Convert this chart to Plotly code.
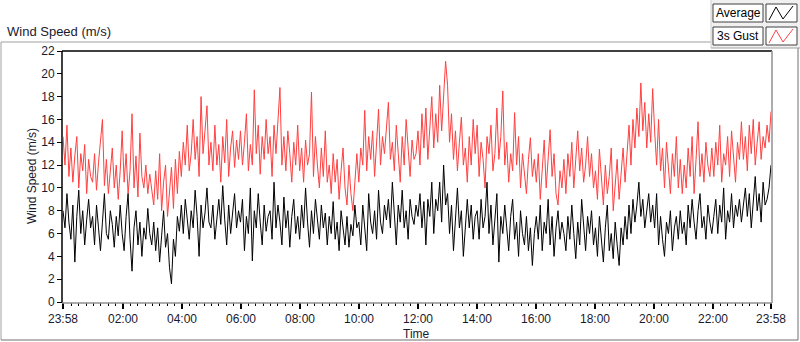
import pandas as pd
import plotly.graph_objects as go

# ---- data (4-minute samples) ----
gust_speed = [
    14.5, 12.0, 15.5, 11.0, 13.5, 10.5, 12.8, 14.5, 10.0, 13.0, 11.5, 13.8, 9.5, 12.5, 11.0,
    10.5, 13.0, 9.8, 12.2, 14.0, 16.0, 10.2, 12.5, 9.5, 11.8, 13.5, 10.0, 12.0, 9.0, 11.5,
    15.0, 10.5, 13.0, 9.5, 11.5, 16.5, 10.0, 12.8, 9.2, 14.8, 11.0, 10.0, 12.0, 9.5, 11.2,
    10.0, 8.5, 11.5, 9.0, 13.0, 8.0, 10.5, 12.0, 7.5, 10.0, 11.8, 8.2, 12.5, 9.5, 13.2,
    11.0, 14.0, 12.0, 15.5, 11.5, 13.0, 16.0, 12.5, 14.5, 11.0, 18.0, 13.0, 15.0, 17.2, 12.0,
    14.0, 11.5, 15.5, 12.0, 13.8, 10.5, 14.5, 12.2, 16.0, 11.0, 13.5, 15.0, 11.8, 14.2, 12.5,
    15.0, 12.0, 14.0, 16.5, 11.5, 13.8, 12.0, 18.6, 13.0, 15.5, 11.2, 14.5, 12.5, 16.0, 13.0,
    14.5, 11.0, 15.5, 13.0, 16.0, 18.8, 12.0, 14.5, 11.5, 15.0, 13.0, 10.5, 14.0, 12.0, 15.5,
    11.5, 13.5, 10.5, 14.2, 12.0, 13.0, 18.4, 11.0, 14.5, 12.0, 10.0, 13.5, 11.0, 15.0, 10.5,
    12.0, 9.5, 13.0, 10.5, 12.5, 9.0, 11.5, 13.5, 10.0, 8.5, 12.0, 9.5, 8.0, 11.0, 13.0,
    10.5, 13.5, 12.0, 16.8, 11.5, 14.5, 12.5, 15.0, 11.0, 13.8, 16.9, 12.0, 14.5, 13.0, 15.5,
    17.5, 12.5, 14.0, 11.5, 15.5, 13.0, 10.5, 14.5, 12.0, 16.0, 13.5, 11.0, 14.2, 12.5, 13.0,
    15.0, 12.0, 16.5, 13.5, 17.0, 12.5, 15.5, 18.0, 13.5, 16.5, 14.0, 19.0, 15.0, 18.5, 21.1,
    19.0, 14.0, 16.5, 12.5, 15.0, 11.5, 14.0, 16.2, 12.0, 13.5, 10.5, 14.5, 12.0, 16.0, 13.0,
    15.5, 11.0, 14.0, 12.5, 10.0, 14.5, 13.0, 15.5, 11.5, 13.0, 17.0, 12.5, 14.5, 18.5, 12.0,
    14.0, 10.5, 13.0, 11.5, 16.6, 12.0, 14.5, 10.0, 13.0, 11.5, 9.5, 12.5, 14.4, 11.0, 12.5,
    10.5, 13.0, 9.0, 12.0, 14.2, 10.0, 12.5, 15.1, 11.0, 13.0, 9.5, 8.5, 11.5, 10.0, 12.5,
    9.5, 13.0, 11.0, 14.0, 10.0, 12.5, 15.0, 11.5, 13.5, 10.5, 12.0, 14.5, 11.0, 13.0, 10.0,
    11.5, 9.0, 13.4, 10.5, 8.5, 12.0, 9.5, 11.0, 13.5, 8.0, 10.5, 12.5, 9.0, 11.5, 13.5,
    10.5, 13.0, 15.5, 12.0, 16.0, 13.5, 17.0, 14.5, 19.2, 15.0, 17.5, 13.5, 16.5, 14.0, 18.7,
    15.0, 12.0, 16.0, 11.5, 13.5, 10.0, 14.0, 12.0, 9.5, 13.0, 11.0, 14.5, 10.0, 12.5, 9.5,
    12.0, 10.0, 13.5, 11.0, 14.5, 9.5, 12.5, 15.8, 11.0, 13.0, 10.5, 14.0, 12.0, 11.0, 13.5,
    11.0, 14.0, 12.0, 15.5, 10.5, 13.0, 12.0, 14.5, 11.0, 15.0, 13.0, 10.5, 14.0, 12.5, 15.8,
    12.5, 14.5, 11.5, 15.5, 13.0, 16.0, 12.0, 14.0, 15.8, 12.5, 14.5, 13.5, 15.5, 14.0, 16.7,
]

avg_speed = [
    8.0, 6.5, 9.5, 7.0, 5.5, 8.5, 3.5, 7.5, 9.8, 6.0, 8.0, 5.0, 7.2, 9.0, 6.5,
    7.5, 5.0, 8.5, 6.5, 4.5, 7.0, 9.5, 6.0, 5.5, 8.0, 6.8, 4.8, 7.5, 5.8, 8.5,
    6.0, 4.5, 7.5, 9.5, 5.5, 2.7, 6.5, 8.0, 5.0, 7.0, 4.0, 6.5, 5.5, 8.2, 6.0,
    5.0, 7.0, 4.5, 6.5, 3.5, 5.8, 8.0, 4.8, 6.0, 3.0, 1.6, 5.5, 4.0, 7.5, 6.2,
    8.5, 6.0, 9.0, 7.0, 5.5, 8.0, 6.5, 9.8, 7.5, 4.0, 8.5, 6.5, 7.8, 10.0, 7.0,
    6.5, 8.5, 5.5, 7.5, 9.0, 6.8, 10.2, 7.2, 5.0, 8.5, 6.0, 7.8, 9.5, 6.5, 8.0,
    7.0, 9.0, 4.5, 7.5, 6.0, 10.0, 3.6, 8.0, 6.5, 9.5, 7.0, 5.0, 8.5, 6.2, 7.5,
    8.0, 5.5, 10.5, 6.5, 8.5, 7.0, 5.0, 9.2, 6.5, 8.0, 4.8, 7.5, 9.0, 6.0, 7.5,
    5.5, 8.5, 6.5, 10.0, 7.0, 4.8, 8.0, 6.0, 9.0, 7.2, 5.5, 8.5, 6.5, 7.8, 5.0,
    7.5, 6.0, 8.8, 5.5, 7.0, 4.5, 8.0, 6.5, 5.0, 7.5, 4.8, 6.8, 5.8, 8.5, 6.5,
    7.0, 5.0, 8.5, 6.5, 4.5, 9.5, 7.0, 6.0, 8.0, 5.5, 9.8, 7.0, 6.0, 8.5, 7.2,
    9.0, 6.5, 10.5, 7.5, 5.0, 8.5, 7.0, 9.8, 6.5, 8.0, 5.5, 9.0, 7.5, 6.8, 8.5,
    7.5, 9.5, 6.5, 8.8, 5.0, 9.0, 7.5, 10.5, 6.0, 9.0, 8.0, 10.5, 7.0, 12.0, 8.5,
    9.5, 6.0, 8.5, 4.5, 7.5, 10.0, 6.5, 8.0, 4.0, 7.0, 9.0, 6.5, 8.5, 5.5, 7.5,
    8.0, 5.5, 9.0, 6.5, 7.5, 10.5, 6.0, 8.5, 5.0, 7.0, 9.5, 3.5, 7.5, 6.0, 8.5,
    6.5, 4.5, 7.5, 9.0, 5.5, 7.0, 4.0, 8.0, 6.0, 5.0, 7.5, 4.5, 6.5, 3.2, 6.0,
    7.5, 5.5, 8.5, 4.5, 7.0, 6.0, 9.0, 5.0, 7.5, 4.0, 6.5, 8.0, 5.5, 7.0, 6.0,
    4.5, 7.5, 5.5, 8.5, 6.0, 3.8, 7.0, 5.0, 9.0, 6.5, 4.5, 7.5, 6.0, 8.0, 5.0,
    6.5, 4.0, 7.5, 5.5, 3.5, 6.5, 8.5, 4.5, 6.0, 3.8, 7.0, 5.0, 3.2, 6.5, 5.0,
    7.5, 5.5, 8.5, 6.0, 9.0, 7.0, 8.5, 10.5, 7.5, 9.0, 6.5, 8.0, 9.5, 7.0, 8.5,
    6.5, 9.5, 5.0, 7.5, 5.5, 4.0, 7.0, 6.0, 8.0, 4.5, 6.5, 7.5, 5.5, 8.0, 6.0,
    7.0, 5.0, 8.5, 6.5, 9.0, 7.0, 5.5, 8.0, 9.5, 6.5, 7.5, 5.5, 8.5, 7.0, 6.0,
    7.5, 9.0, 6.0, 8.5, 7.0, 10.0, 5.5, 8.0, 7.0, 9.5, 6.5, 8.5, 7.5, 9.0, 7.0,
    8.5, 10.0, 7.5, 9.5, 6.5, 8.5, 11.0, 8.0, 9.5, 7.0, 10.5, 8.5, 9.0, 10.0, 12.0,
]

start_time = "2000-01-01 23:58"
end_time = "2000-01-02 23:58"
major_tick_times = [start_time] + [f"2000-01-02 {h:02d}:00" for h in range(2, 24, 2)] + [end_time]
major_tick_labels = ["23:58"] + [f"{h:02d}:00" for h in range(2, 24, 2)] + ["23:58"]
y_ticks = list(range(0, 23, 2))

times = pd.date_range(start_time, end_time, periods=len(avg_speed))

# ---- layout geometry (pixels) ----
W, H = 800, 342
L, R, T, B = 63, 29, 51, 40
PW, PH = W - L - R, H - T - B


def px(x):
    return (x - L) / PW


def py(y):
    return (H - B - y) / PH


FONT = "Liberation Sans"
TXT = "#1a1a2e"

fig = go.Figure()
fig.add_trace(go.Scatter(x=times, y=gust_speed, mode="lines", name="3s Gust",
                         line=dict(color="#ff4040", width=1), showlegend=False))
fig.add_trace(go.Scatter(x=times, y=avg_speed, mode="lines", name="Average",
                         line=dict(color="#000000", width=1), showlegend=False))

shapes = []
gray = "#a0a0a0"
# outer frame
shapes.append(dict(type="line", xref="paper", yref="paper", x0=px(1), x1=px(711), y0=py(42), y1=py(42),
                   line=dict(color=gray, width=1)))
shapes.append(dict(type="line", xref="paper", yref="paper", x0=px(1), x1=px(1), y0=py(42), y1=py(340),
                   line=dict(color=gray, width=1)))
shapes.append(dict(type="line", xref="paper", yref="paper", x0=px(1), x1=px(798), y0=py(340), y1=py(340),
                   line=dict(color="#707070", width=1)))
shapes.append(dict(type="line", xref="paper", yref="paper", x0=px(798), x1=px(798), y0=py(48), y1=py(340),
                   line=dict(color="#707070", width=1)))
# legend panel
shapes.append(dict(type="rect", xref="paper", yref="paper", x0=px(711), x1=px(800), y0=py(0), y1=py(48),
                   fillcolor="#f0f0f0", line=dict(width=0), layer="below"))
shapes.append(dict(type="line", xref="paper", yref="paper", x0=px(711), x1=px(711), y0=py(0), y1=py(48),
                   line=dict(color="#d0d0d0", width=1)))
shapes.append(dict(type="line", xref="paper", yref="paper", x0=px(711), x1=px(800), y0=py(48), y1=py(48),
                   line=dict(color=gray, width=1)))
for top, col in ((4, "#000000"), (27, "#ff4040")):
    shapes.append(dict(type="rect", xref="paper", yref="paper", x0=px(713), x1=px(763),
                       y0=py(top), y1=py(top + 18), fillcolor="white", line=dict(color="#404040", width=1)))
    shapes.append(dict(type="rect", xref="paper", yref="paper", x0=px(766), x1=px(797),
                       y0=py(top), y1=py(top + 18), fillcolor="white", line=dict(color="#404040", width=1)))
    pts = [(769, top + 16), (776, top + 3), (783, top + 15), (793, top + 2)]
    path = "M " + " L ".join(f"{px(a)},{py(b)}" for a, b in pts)
    shapes.append(dict(type="path", xref="paper", yref="paper", path=path,
                       line=dict(color=col, width=1)))
# plot area border: black left/top, gray right/bottom
shapes.append(dict(type="line", xref="paper", yref="paper", x0=px(62), x1=px(62), y0=py(51), y1=py(303),
                   line=dict(color="#000000", width=1.5)))
shapes.append(dict(type="line", xref="paper", yref="paper", x0=px(62), x1=px(772), y0=py(51), y1=py(51),
                   line=dict(color="#000000", width=1.5)))
shapes.append(dict(type="line", xref="paper", yref="paper", x0=px(772), x1=px(772), y0=py(51), y1=py(303),
                   line=dict(color="#909090", width=1.5)))
shapes.append(dict(type="line", xref="paper", yref="paper", x0=px(62), x1=px(772), y0=py(303), y1=py(303),
                   line=dict(color="#909090", width=1.5)))

annotations = [
    dict(text="Wind Speed (m/s)", xref="paper", yref="paper", x=px(5), y=py(31),
         xanchor="left", yanchor="middle", showarrow=False, font=dict(family=FONT, size=13, color=TXT)),
    dict(text="Average", xref="paper", yref="paper", x=px(738), y=py(13),
         xanchor="center", yanchor="middle", showarrow=False, font=dict(family=FONT, size=12, color="#000")),
    dict(text="3s Gust", xref="paper", yref="paper", x=px(738), y=py(36),
         xanchor="center", yanchor="middle", showarrow=False, font=dict(family=FONT, size=12, color="#000")),
    dict(text="Time", xref="paper", yref="paper", x=px(416), y=py(334),
         xanchor="center", yanchor="middle", showarrow=False, font=dict(family=FONT, size=12, color=TXT)),
    dict(text="Wind Speed (m/s)", xref="paper", yref="paper", x=px(32), y=py(176),
         xanchor="center", yanchor="middle", textangle=-90, showarrow=False,
         font=dict(family=FONT, size=12, color=TXT)),
]

fig.update_layout(
    width=W, height=H,
    margin=dict(l=L, r=R, t=T, b=B),
    paper_bgcolor="white", plot_bgcolor="white",
    font=dict(family=FONT, size=12, color=TXT),
    shapes=shapes, annotations=annotations,
    xaxis=dict(
        type="date", range=[start_time, end_time],
        tickmode="array", tickvals=major_tick_times, ticktext=major_tick_labels,
        ticks="outside", ticklen=6, tickwidth=1.5, tickcolor="#000",
        showgrid=False, zeroline=False, showline=False,
        tickfont=dict(family=FONT, size=12, color=TXT),
        minor=dict(tickmode="linear", tick0="2000-01-02 02:00", dtick=15 * 60 * 1000,
                   ticks="outside", ticklen=3, tickcolor="#000", tickwidth=1, showgrid=False),
    ),
    yaxis=dict(
        range=[0, 22], tickmode="array", tickvals=y_ticks,
        ticks="outside", ticklen=5, tickcolor="#000", tickwidth=1,
        showgrid=False, zeroline=False, showline=False,
        tickfont=dict(family=FONT, size=12, color=TXT),
    ),
)

fig.write_html("out.html", config={"displayModeBar": False},
               post_script="document.body.style.margin='0';document.body.style.overflow='hidden';")
